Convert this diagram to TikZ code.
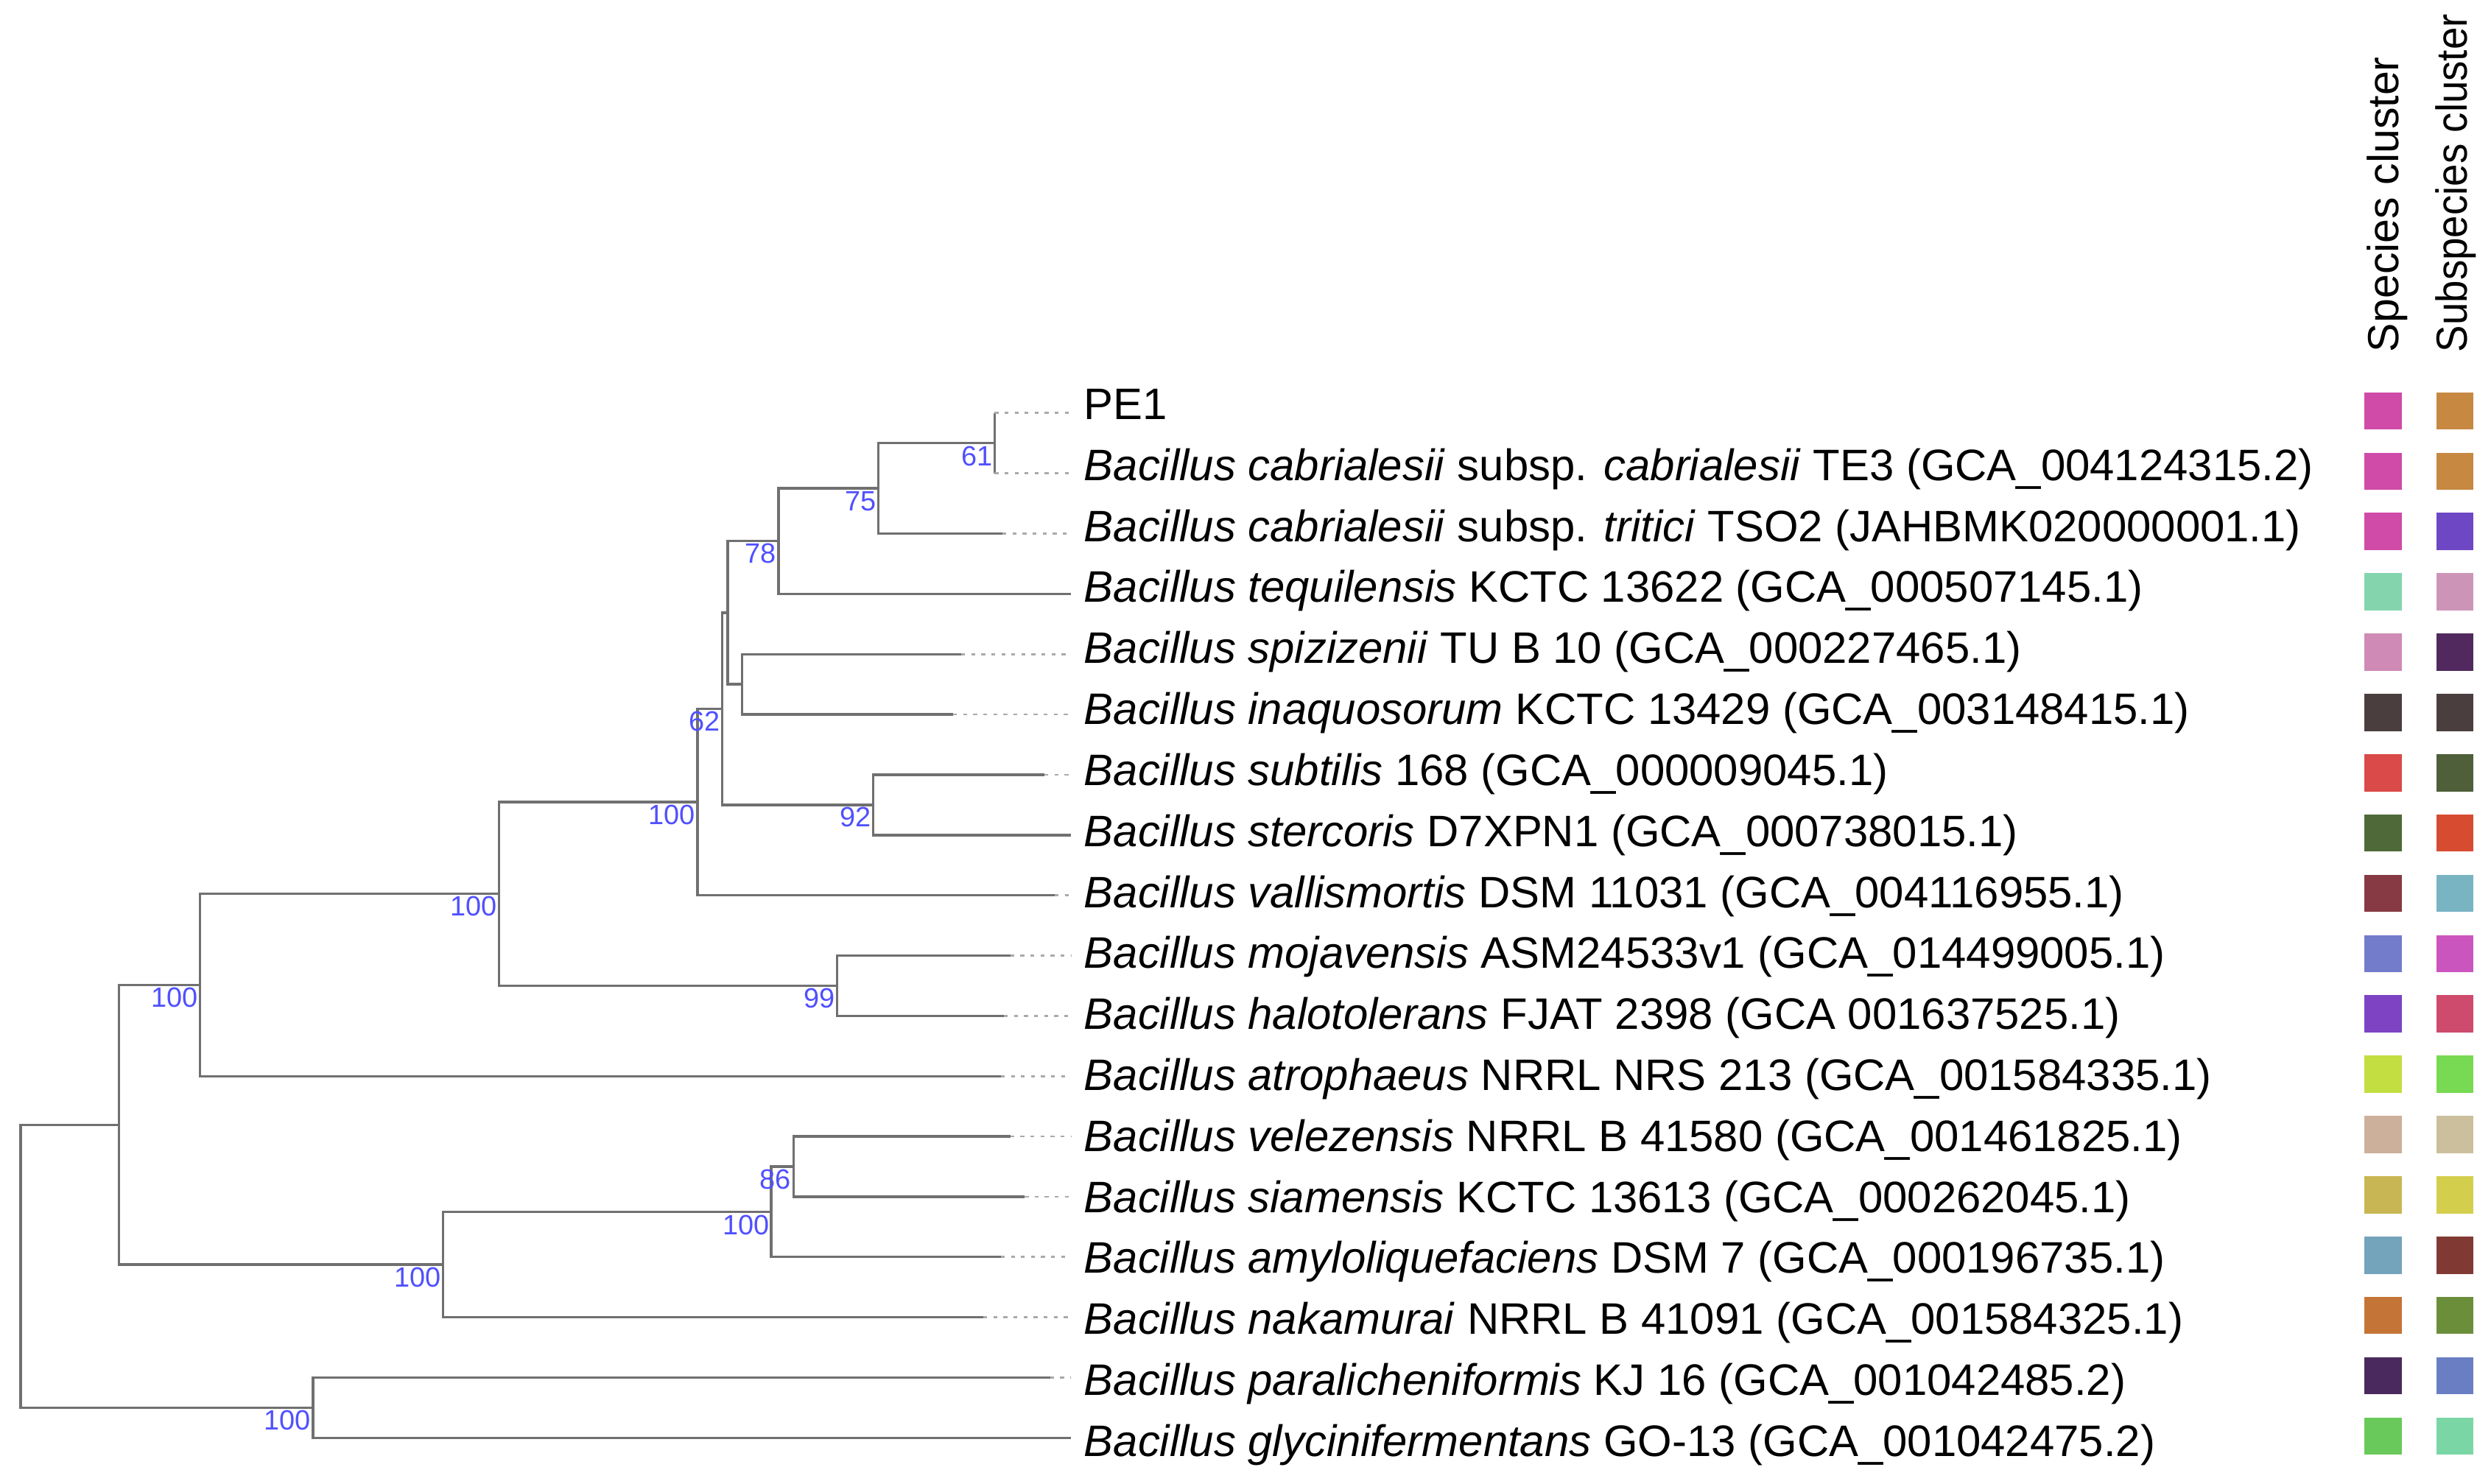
\documentclass[tikz,border=0pt]{standalone}
\usepackage{graphicx}
\usepackage{fontspec}
\setmainfont{Liberation Sans}
\definecolor{treegray}{RGB}{112,112,112}
\definecolor{dotgray}{RGB}{170,170,170}
\definecolor{bsblue}{RGB}{80,80,255}
\begin{document}
\begin{tikzpicture}[x=0.02cm,y=-0.02cm,
  branch/.style={draw=treegray,line width=0.9pt},
  dotline/.style={draw=dotgray,line width=0.7pt,dash pattern=on 1.4pt off 2.2pt},
  leaf/.style={anchor=base west,inner sep=0pt,font=\fontsize{15.8}{18}\selectfont},
  bs/.style={anchor=north east,inner sep=0pt,text=bsblue,font=\fontsize{10}{12}\selectfont},
  hdr/.style={anchor=base west,inner sep=0pt,rotate=90,font=\fontsize{15.6}{18}\selectfont},
  sq/.style={draw=none,inner sep=0pt,minimum width=0.47cm,minimum height=0.47cm}]
\useasboundingbox (0,0) rectangle (1568,934);
% internal nodes
\coordinate (root) at (13,797.1);
\coordinate (A) at (75,708.06);
\coordinate (Nb) at (197,886.18);
\coordinate (B) at (126,620.08);
\coordinate (C) at (279,796.05);
\coordinate (D) at (314,562.71);
\coordinate (E) at (439,504.9);
\coordinate (n62) at (454.5,446.19);
\coordinate (nX) at (458,385.71);
\coordinate (nSI) at (467,430.78);
\coordinate (n78) at (490,340.64);
\coordinate (n75) at (553,307.44);
\coordinate (n61) at (626,278.98);
\coordinate (n92) at (549.5,506.68);
\coordinate (n99) at (527,620.53);
\coordinate (n100c) at (485.5,762.84);
\coordinate (n86) at (499.5,734.38);
% leaf ends (solid) and dotted ends
\foreach \i/\xe in {0/626,1/626,2/631,3/674,4/605,5/600,6/657.5,7/674,8/664,9/636,10/632,11/630,12/636,13/645,14/630,15/619,16/661,17/674}{
  \coordinate (l\i) at (\xe,{260+37.95*\i});
  \coordinate (d\i) at (674,{260+37.95*\i});
}
% branches
\draw[branch] (root) |- (A);
\draw[branch] (root) |- (Nb);
\draw[branch] (A) |- (B);
\draw[branch] (A) |- (C);
\draw[branch] (B) |- (D);
\draw[branch] (B) |- (l11);
\draw[branch] (D) |- (E);
\draw[branch] (D) |- (n99);
\draw[branch] (E) |- (n62);
\draw[branch] (E) |- (l8);
\draw[branch] (n62) |- (nX);
\draw[branch] (n62) |- (n92);
\draw[branch] (nX) |- (n78);
\draw[branch] (nX) |- (nSI);
\draw[branch] (n78) |- (n75);
\draw[branch] (n78) |- (l3);
\draw[branch] (n75) |- (n61);
\draw[branch] (n75) |- (l2);
\draw[branch] (n61) |- (l0);
\draw[branch] (n61) |- (l1);
\draw[branch] (nSI) |- (l4);
\draw[branch] (nSI) |- (l5);
\draw[branch] (n92) |- (l6);
\draw[branch] (n92) |- (l7);
\draw[branch] (n99) |- (l9);
\draw[branch] (n99) |- (l10);
\draw[branch] (C) |- (n100c);
\draw[branch] (C) |- (l15);
\draw[branch] (n100c) |- (n86);
\draw[branch] (n100c) |- (l14);
\draw[branch] (n86) |- (l12);
\draw[branch] (n86) |- (l13);
\draw[branch] (Nb) |- (l16);
\draw[branch] (Nb) |- (l17);
% dotted extensions
\foreach \i in {0,1,2,4,5,6,8,9,10,11,12,13,14,15,16}{
  \draw[dotline] (l\i) -- (d\i);
}
% bootstrap values
\node[bs] (b61) at (625,280.5) {61};
\node[bs] (b75) at (552,309) {75};
\node[bs] (b78) at (489,342) {78};
\node[bs] (b62) at (453.5,447.5) {62};
\node[bs] (bE) at (438,506.5) {100};
\node[bs] (b92) at (548.5,508) {92};
\node[bs] (bD) at (313,564) {100};
\node[bs] (b99) at (526,622) {99};
\node[bs] (bB) at (125,621.5) {100};
\node[bs] (b86) at (498,736) {86};
\node[bs] (bC2) at (484.5,764.5) {100};
\node[bs] (bC) at (278,797.5) {100};
\node[bs] (bNb) at (196,887.5) {100};
% leaf labels
\def\by#1{264+38.4*#1}
\node[leaf] (t0) at (682,{\by{0}}) {PE1};
\node[leaf] (t1) at (682,{\by{1}}) {\textit{Bacillus cabrialesii} subsp. \textit{cabrialesii} TE3 (GCA\_004124315.2)};
\node[leaf] (t2) at (682,{\by{2}}) {\textit{Bacillus cabrialesii} subsp. \textit{tritici} TSO2 (JAHBMK020000001.1)};
\node[leaf] (t3) at (682,{\by{3}}) {\textit{Bacillus tequilensis} KCTC 13622 (GCA\_000507145.1)};
\node[leaf] (t4) at (682,{\by{4}}) {\textit{Bacillus spizizenii} TU B 10 (GCA\_000227465.1)};
\node[leaf] (t5) at (682,{\by{5}}) {\textit{Bacillus inaquosorum} KCTC 13429 (GCA\_003148415.1)};
\node[leaf] (t6) at (682,{\by{6}}) {\textit{Bacillus subtilis} 168 (GCA\_000009045.1)};
\node[leaf] (t7) at (682,{\by{7}}) {\textit{Bacillus stercoris} D7XPN1 (GCA\_000738015.1)};
\node[leaf] (t8) at (682,{\by{8}}) {\textit{Bacillus vallismortis} DSM 11031 (GCA\_004116955.1)};
\node[leaf] (t9) at (682,{\by{9}}) {\textit{Bacillus mojavensis} ASM24533v1 (GCA\_014499005.1)};
\node[leaf] (t10) at (682,{\by{10}}) {\textit{Bacillus halotolerans} FJAT 2398 (GCA 001637525.1)};
\node[leaf] (t11) at (682,{\by{11}}) {\textit{Bacillus atrophaeus} NRRL NRS 213 (GCA\_001584335.1)};
\node[leaf] (t12) at (682,{\by{12}}) {\textit{Bacillus velezensis} NRRL B 41580 (GCA\_001461825.1)};
\node[leaf] (t13) at (682,{\by{13}}) {\textit{Bacillus siamensis} KCTC 13613 (GCA\_000262045.1)};
\node[leaf] (t14) at (682,{\by{14}}) {\textit{Bacillus amyloliquefaciens} DSM 7 (GCA\_000196735.1)};
\node[leaf] (t15) at (682,{\by{15}}) {\textit{Bacillus nakamurai} NRRL B 41091 (GCA\_001584325.1)};
\node[leaf] (t16) at (682,{\by{16}}) {\textit{Bacillus paralicheniformis} KJ 16 (GCA\_001042485.2)};
\node[leaf] (t17) at (682,{\by{17}}) {\textit{Bacillus glycinifermentans} GO-13 (GCA\_001042475.2)};
% headers
\node[hdr] (h1) at (1510,222) {Species cluster};
\node[hdr] (h2) at (1553,222) {\scalebox{0.925}[1]{Subspecies cluster}};
% colour squares
\foreach \i/\c in {0/D04AA8,1/D04AA8,2/D04AA8,3/84D4AE,4/CF8AB5,5/4A3E3F,6/D94A48,7/4F6A38,8/873A43,9/737BCB,10/7D43C3,11/C2DE41,12/CDB09B,13/C8B654,14/74A3BC,15/C57437,16/4A2A5E,17/69C95A}{
  \definecolor{tmpc}{HTML}{\c}
  \node[sq,fill=tmpc] (sp\i) at (1500,{258.7+37.96*\i}) {};
}
\foreach \i/\c in {0/C78842,1/C78842,2/6E47C4,3/CC95B8,4/51295E,5/4A3E3F,6/4E5F3A,7/D74B31,8/79B4C3,9/CB55BF,10/CF4B6E,11/78DA52,12/CBBF9D,13/D3CF4D,14/813A33,15/6B8E3B,16/6A7FC3,17/7BD6A6}{
  \definecolor{tmpc}{HTML}{\c}
  \node[sq,fill=tmpc] (ss\i) at (1545.3,{258.7+37.96*\i}) {};
}
\end{tikzpicture}
\end{document}
